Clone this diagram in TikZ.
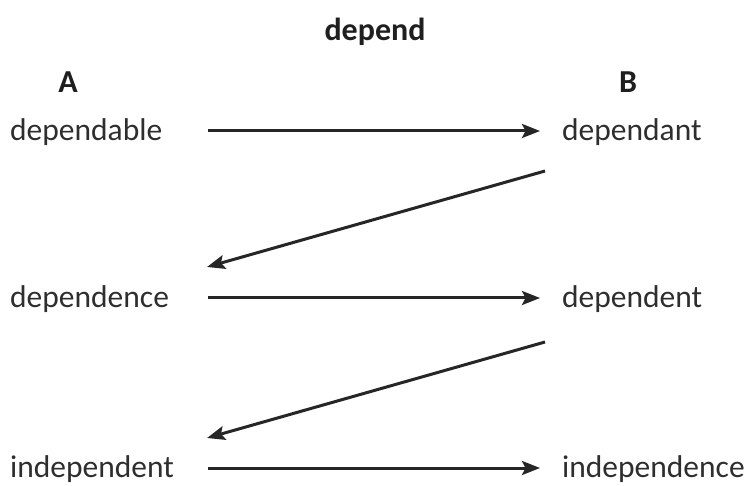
\documentclass[tikz,border=0pt]{standalone}
\usepackage{fontspec}
\setmainfont{Carlito}
\usetikzlibrary{arrows.meta}
\begin{document}
\begin{tikzpicture}[x=1pt,y=-1pt,
  word/.style={font=\fontsize{31.5}{36}\selectfont, inner sep=0pt, anchor=base west, text=black!82},
  head/.style={font=\bfseries\fontsize{32}{36}\selectfont, inner sep=0pt, anchor=base, text=black!88},
  conn/.style={line width=3pt, draw=black!85, -{Stealth[length=18pt,width=14pt,inset=3.5pt]}}]
\useasboundingbox (0,0) rectangle (750,486);
\node[head] (t) at (375,41) {depend};
\node[head] (A) at (68,93) {A};
\node[head] (B) at (628,93) {B};
\node[word] (a1) at (10,141) {dependable};
\node[word] (b1) at (562,141) {dependant};
\node[word] (a2) at (10,308) {dependence};
\node[word] (b2) at (562,308) {dependent};
\node[word] (a3) at (10,477) {independent};
\node[word] (b3) at (562,477) {independence};
\coordinate (r1s) at (208,131); \coordinate (r1e) at (540,131);
\coordinate (d1s) at (545,171); \coordinate (d1e) at (207,267);
\coordinate (r2s) at (208,298); \coordinate (r2e) at (540,298);
\coordinate (d2s) at (545,342); \coordinate (d2e) at (207,438);
\coordinate (r3s) at (208,468); \coordinate (r3e) at (540,468);
\draw[conn] (r1s) -- (r1e);
\draw[conn] (d1s) -- (d1e);
\draw[conn] (r2s) -- (r2e);
\draw[conn] (d2s) -- (d2e);
\draw[conn] (r3s) -- (r3e);
\end{tikzpicture}
\end{document}
